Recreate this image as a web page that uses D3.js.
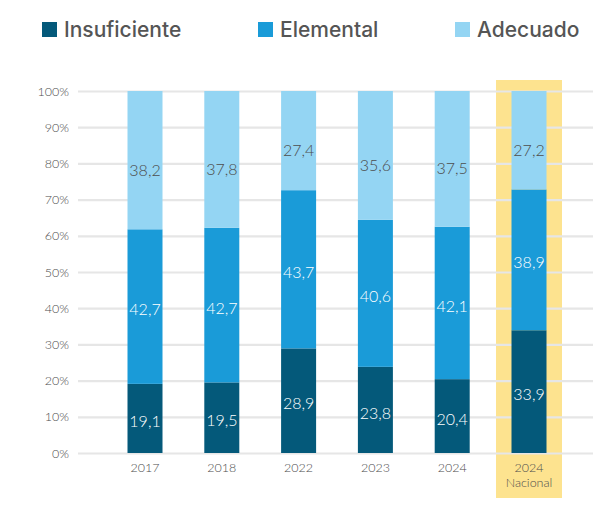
<!DOCTYPE html>
<html><head><meta charset="utf-8">
<script src="https://cdn.jsdelivr.net/npm/d3@7"></script>
<style>
html,body{margin:0;padding:0;background:#fff;}
svg{display:block;font-family:Inter,"Open Sans",sans-serif;}
.thin{font-family:Lato,"Open Sans",sans-serif;font-weight:300;}
</style></head>
<body>
<svg id="chart" width="615" height="512"></svg>
<script>
const categories = ["2017","2018","2022","2023","2024","2024 Nacional"];
const seriesNames = ["Insuficiente","Elemental","Adecuado"];
const insuficiente = [19.1,19.5,28.9,23.8,20.4,33.9];
const elemental = [42.7,42.7,43.7,40.6,42.1,38.9];
const adecuado = [38.2,37.8,27.4,35.6,37.5,27.2];
const yTicks = [0,10,20,30,40,50,60,70,80,90,100];
const highlightCategory = "2024 Nacional";

const colors = ["#04597a","#1a9bd8","#94d5f3"];
const labelColors = ["#ffffff","#ffffff","#4d4d4d"];

const svg = d3.select("#chart");
const rows = categories.map((c,i)=>({cat:c,Insuficiente:insuficiente[i],Elemental:elemental[i],Adecuado:adecuado[i]}));
const stacked = d3.stack().keys(seriesNames)(rows);

const y = d3.scaleLinear().domain([0,100]).range([453,91]);
const x = d3.scalePoint().domain(categories).range([145,529]);
const barW = 35;

// highlight
svg.append("rect")
  .attr("x", x(highlightCategory)-33).attr("width",66)
  .attr("y",80).attr("height",418)
  .attr("fill","#fde38f");

// gridlines + y labels
const yAxis = d3.axisLeft(y).tickValues(yTicks).tickFormat(d=>d+"%").tickSize(-(593-78)).tickPadding(9);
const gy = svg.append("g").attr("transform","translate(78,0)").call(yAxis);
gy.select(".domain").remove();
gy.selectAll(".tick line").attr("stroke","#e6e6e6").attr("stroke-width",2.2);
gy.selectAll(".tick text").attr("class","thin").attr("fill","#4d4d4d").attr("font-size",12.5);

// bars
const layers = svg.append("g").selectAll("g").data(stacked).join("g")
  .attr("fill",(d,i)=>colors[i]);
layers.selectAll("rect").data(d=>d).join("rect")
  .attr("x",d=>x(d.data.cat)-barW/2).attr("width",barW)
  .attr("y",d=>y(d[1])).attr("height",d=>y(d[0])-y(d[1]));

// value labels
stacked.forEach((s,si)=>{
  svg.append("g").selectAll("text").data(s).join("text")
    .attr("class","thin")
    .attr("x",d=>x(d.data.cat))
    .attr("y",d=>(y(d[0])+y(d[1]))/2 + (si===2?10:3))
    .attr("dy","0.35em")
    .attr("text-anchor","middle")
    .attr("font-size",16)
    .attr("fill",labelColors[si])
    .text(d=>d3.format(".1f")(d[1]-d[0]).replace(".",","));
});

// x labels
const xl = svg.append("g").selectAll("text").data(categories).join("text")
  .attr("class","thin")
  .attr("x",d=>x(d)).attr("y",472)
  .attr("text-anchor","middle").attr("font-size",12.5)
  .attr("fill","#4d4d4d");
xl.each(function(d){
  const parts = d.split(" ");
  const t = d3.select(this);
  parts.forEach((p,i)=>t.append("tspan").attr("x",x(d)).attr("dy",i?15:0).text(p));
});

// legend
const legendX = [42,258,455];
const lg = svg.append("g").selectAll("g").data(seriesNames).join("g")
  .attr("transform",(d,i)=>`translate(${legendX[i]},0)`);
lg.append("rect").attr("x",0).attr("y",22).attr("width",15).attr("height",15)
  .attr("fill",(d,i)=>colors[i]);
lg.append("text").attr("x",22).attr("y",37).attr("font-size",21).attr("font-weight",500)
  .attr("fill","#555555").text(d=>d);
</script>
</body></html>
